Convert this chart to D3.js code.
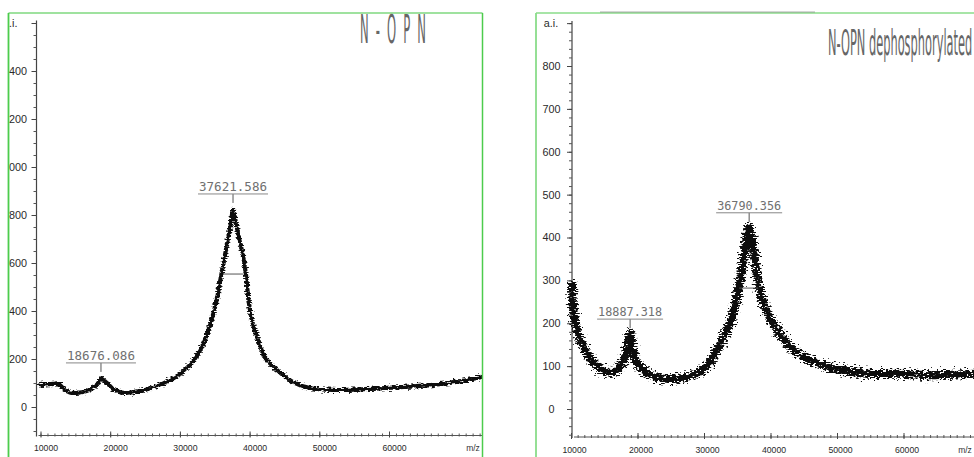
<!DOCTYPE html>
<html><head><meta charset="utf-8">
<script src="https://cdn.jsdelivr.net/npm/d3@7"></script>
<style>html,body{margin:0;padding:0;background:#fff;} svg{display:block;}</style>
</head><body>
<svg id="c" width="974" height="457"></svg>
<script>
// ---------- data ----------
const leftMz = [9900, 11000, 11800, 12500, 13200, 14200, 15600, 16700, 17600, 18200, 18676, 19300, 19900, 20400, 21200, 22100, 24300, 26700, 28600, 30000, 31450, 32600, 33600, 34460, 35280, 35750, 36330, 36900, 37330, 37621, 38150, 38670, 39170, 39560, 39840, 40340, 41060, 42210, 43930, 46230, 48670, 51970, 56840, 61580, 66310, 71190, 73300];
const leftIntensity = [90, 95, 96, 98, 80, 60, 60, 67, 83, 96, 117, 106, 90, 75, 64, 59, 67, 87, 112, 137, 175, 221, 279, 354, 446, 521, 612, 700, 767, 821, 750, 683, 612, 529, 446, 362, 292, 208, 154, 104, 79, 71, 75, 83, 92, 112, 125];
const rightMz = [10150, 10450, 11050, 12100, 13300, 14800, 15870, 16920, 17820, 18420, 18887, 19320, 19920, 21430, 23380, 25340, 27440, 29400, 30900, 31900, 32860, 33910, 34960, 35870, 36790, 37370, 38270, 39170, 40380, 41730, 43990, 46990, 50450, 54510, 59470, 64440, 70750];
const rightIntensity = [289, 219, 177, 138, 110, 91, 84, 91, 110, 138, 177, 138, 107, 84, 72, 70, 75, 86, 110, 136, 163, 200, 261, 340, 425, 378, 282, 238, 200, 168, 131, 107, 91, 82, 82, 79, 82];
const leftPeakLabels = ["18676.086", "37621.586"];
const leftPeakMz = [18676, 37621];
const leftPeakTop = [117, 821];
const rightPeakLabels = ["18887.318", "36790.356"];
const rightPeakMz = [18887, 36790];
const rightPeakTop = [177, 425];
const leftWidthMz = [36184, 39053];
const leftWidthLevel = 554;
const rightWidthMz = [35300, 38150];
const rightWidthLevel = 282;
const xTickValues = [10000, 20000, 30000, 40000, 50000, 60000];
const leftYTickValues = [0, 200, 400, 600, 800, 1000, 1200, 1400, 1600];
const rightYTickValues = [0, 100, 200, 300, 400, 500, 600, 700, 800, 900];
const titles = ["N-OPN", "N-OPN dephosphorylated"];
const yUnit = "a.i.";
const xUnit = "m/z";

// ---------- drawing ----------
const svg = d3.select("#c");
const defs = svg.append("defs");
// scanned-trace texture (visual style only)
[["fuzzL", 6, "0.25 0.8"], ["fuzzR", 14, "0.3 0.9"]].forEach(([id, s, f]) => {
  const fl = defs.append("filter").attr("id", id).attr("filterUnits", "userSpaceOnUse")
    .attr("x", 0).attr("y", 0).attr("width", 974).attr("height", 457);
  fl.append("feTurbulence").attr("type", "fractalNoise").attr("baseFrequency", f)
    .attr("numOctaves", 2).attr("seed", 7).attr("result", "n");
  fl.append("feDisplacementMap").attr("in", "SourceGraphic").attr("in2", "n")
    .attr("scale", s).attr("xChannelSelector", "R").attr("yChannelSelector", "G");
});

function panel(o) {
  defs.append("clipPath").attr("id", o.id + "clip")
    .append("rect").attr("x", o.clip[0]).attr("y", 13)
    .attr("width", o.clip[1] - o.clip[0]).attr("height", 444);
  const g = svg.append("g").attr("clip-path", `url(#${o.id}clip)`);

  const x = d3.scaleLinear().domain([10000, 70000]).range(o.xr);
  const y = d3.scaleLinear().domain(o.yd).range(o.yr);
  const font = "Liberation Sans, Arial, sans-serif";

  // axis lines
  g.append("line").attr("x1", o.axisX).attr("x2", o.axisX)
    .attr("y1", y(o.yTop)).attr("y2", o.xAxisY + 1).attr("stroke", "#444").attr("stroke-width", 1.2);
  g.append("line").attr("x1", o.axisX + 2).attr("x2", o.clip[1])
    .attr("y1", o.xAxisY).attr("y2", o.xAxisY).attr("stroke", "#555").attr("stroke-width", 1.1);

  // x minor ticks
  const minor = d3.range(10000, x.invert(o.clip[1]), 1000);
  g.append("g").attr("transform", `translate(0,${o.xAxisY})`)
    .call(d3.axisBottom(x).tickValues(minor).tickSize(3).tickFormat(""))
    .call(a => a.select(".domain").remove())
    .call(a => a.selectAll(".tick line").attr("y1", -2).attr("y2", 1).attr("stroke", "#555"));
  // x major ticks + labels
  g.append("g").attr("transform", `translate(0,${o.xAxisY})`)
    .call(d3.axisBottom(x).tickValues(xTickValues).tickSize(3).tickFormat(d3.format("d")))
    .call(a => a.select(".domain").remove())
    .call(a => a.selectAll(".tick line").attr("y1", -4).attr("y2", 2).attr("stroke", "#444"))
    .call(a => a.selectAll(".tick text").attr("y", o.xLabelY).attr("dx", o.xLabelDx)
      .attr("font-family", font).attr("font-size", 8.7).attr("fill", "#2a2a2a"));
  g.append("text").attr("x", o.mzX).attr("y", o.xAxisY + o.xLabelY).attr("dy", "0.71em")
    .attr("text-anchor", "middle").attr("font-family", font)
    .attr("font-size", 8.5).attr("fill", "#333").text(xUnit);

  // y minor ticks
  const yMinor = d3.range(o.yd[0], o.yTop + 1, o.yMinorStep);
  const yMinorNeg = d3.range(-o.yMinorStep, y.invert(o.xAxisY - 2), -o.yMinorStep);
  g.append("g").attr("transform", `translate(${o.axisX},0)`)
    .call(d3.axisLeft(y).tickValues(yMinor.concat(yMinorNeg)).tickSize(3).tickFormat(""))
    .call(a => a.select(".domain").remove())
    .call(a => a.selectAll(".tick line").attr("stroke", "#555"));
  // y major ticks + labels
  const topTick = o.yTicks[o.yTicks.length - 1];
  g.append("g").attr("transform", `translate(${o.axisX},0)`)
    .call(d3.axisLeft(y).tickValues(o.yTicks).tickSize(5).tickFormat(d => d === topTick ? yUnit : d3.format("d")(d)))
    .call(a => a.select(".domain").remove())
    .call(a => a.selectAll(".tick line").attr("stroke", "#444"))
    .call(a => a.selectAll(".tick text").attr("x", d => d === topTick ? o.aiX : o.yLabelX)
      .attr("text-anchor", o.yAnchor)
      .attr("font-family", font).attr("font-size", 10.8).attr("fill", "#2a2a2a"));

  // spectrum
  const line = d3.line().x(d => x(d[0])).y(d => y(d[1])).curve(d3.curveCatmullRom.alpha(0.5));
  g.append("g").attr("filter", `url(#${o.fuzz})`)
    .append("path").datum(d3.zip(o.mz, o.val)).attr("d", line)
    .attr("fill", "none").attr("stroke", "#111").attr("stroke-width", o.sw)
    .attr("stroke-linejoin", "round").attr("stroke-linecap", "round");

  // width marker
  g.append("line").attr("x1", x(o.wMz[0])).attr("x2", x(o.wMz[1]))
    .attr("y1", y(o.wLevel)).attr("y2", y(o.wLevel)).attr("stroke", "#555").attr("stroke-width", 1);

  // peak annotations
  o.labels.forEach((lab, i) => {
    const px = x(o.peakMz[i]);
    const tipY = y(o.peakTop[i]) - o.gap;
    const ulY = tipY - 9;
    g.append("line").attr("x1", px).attr("x2", px).attr("y1", ulY).attr("y2", tipY)
      .attr("stroke", "#555").attr("stroke-width", 1);
    g.append("line").attr("x1", px - o.labW / 2 - 1).attr("x2", px + o.labW / 2 + 1)
      .attr("y1", ulY).attr("y2", ulY).attr("stroke", "#888").attr("stroke-width", 1);
    g.append("text").attr("x", px).attr("y", ulY - 3).attr("text-anchor", "middle")
      .attr("font-family", "DejaVu Sans Mono, monospace").attr("font-size", 13)
      .attr("textLength", o.labW).attr("lengthAdjust", "spacingAndGlyphs")
      .attr("fill", "#707070").text(lab);
  });

  // title
  g.append("text").attr("transform", `translate(${o.titleX},${o.titleY}) scale(${o.tsx},${o.tsy})`)
    .attr("font-family", "DejaVu Sans, sans-serif").attr("font-size", 20)
    .attr("letter-spacing", o.tls).attr("fill", "#666").text(o.title);

  // scan frame (green)
  svg.append("line").attr("x1", o.clip[0]).attr("x2", o.clip[1]).attr("y1", 13).attr("y2", 13)
    .attr("stroke", o.frameTop).attr("stroke-width", 1.5);
  svg.append("line").attr("x1", o.clip[0]).attr("x2", o.clip[0]).attr("y1", 13).attr("y2", 457)
    .attr("stroke", o.frame).attr("stroke-width", 1.8);
  if (o.rightFrame) {
    svg.append("line").attr("x1", o.clip[1]).attr("x2", o.clip[1]).attr("y1", 13).attr("y2", 457)
      .attr("stroke", o.frame).attr("stroke-width", 1.5);
  }
}

panel({
  id: "L", clip: [8.5, 482.5], xr: [40.5, 40.5 + 6 * 69.7], yd: [0, 1400], yr: [407, 71],
  axisX: 36.5, xAxisY: 435.5, yTop: 1610, xLabelY: 9, xLabelDx: 5, mzX: 473,
  yMinorStep: 50, yTicks: leftYTickValues, yLabelX: -9.5, aiX: -19, yAnchor: "end",
  mz: leftMz, val: leftIntensity, sw: 4.2, fuzz: "fuzzL", wMz: leftWidthMz, wLevel: leftWidthLevel,
  labels: leftPeakLabels, peakMz: leftPeakMz, peakTop: leftPeakTop, gap: 7, labW: 68,
  title: titles[0], titleX: 360, titleY: 43, tsx: 0.58, tsy: 1.92, tls: 12,
  frame: "#4ccc4c", frameTop: "#7fd87f", rightFrame: true
});
panel({
  id: "R", clip: [536, 974], xr: [571, 571 + 6 * 66.5], yd: [0, 800], yr: [409, 66],
  axisX: 572, xAxisY: 437, yTop: 905, xLabelY: 10, xLabelDx: 3, mzX: 965,
  yMinorStep: 20, yTicks: rightYTickValues, yLabelX: -20.5, aiX: -21, yAnchor: "middle",
  mz: rightMz, val: rightIntensity, sw: 8, fuzz: "fuzzR", wMz: rightWidthMz, wLevel: rightWidthLevel,
  labels: rightPeakLabels, peakMz: rightPeakMz, peakTop: rightPeakTop, gap: 5, labW: 64,
  title: titles[1], titleX: 828, titleY: 55, tsx: 0.57, tsy: 1.76, tls: 0,
  frame: "#8adc8a", frameTop: "#8adc8a", rightFrame: false
});
// dark scan edge along the top of the right sheet
svg.append("line").attr("x1", 600).attr("x2", 815).attr("y1", 12).attr("y2", 12)
  .attr("stroke", "#777").attr("stroke-width", 1).attr("opacity", 0.6);
</script>
</body></html>
